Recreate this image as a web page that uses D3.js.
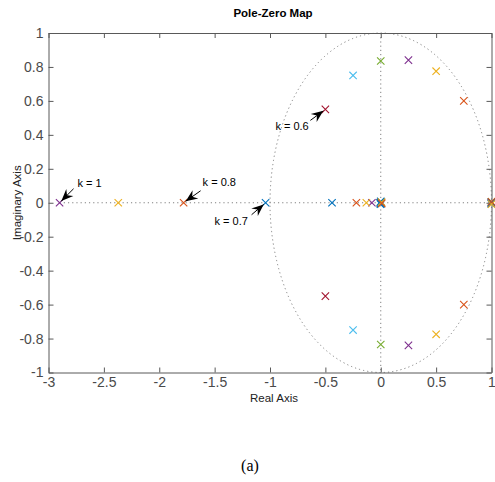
<!DOCTYPE html>
<html>
<head>
<meta charset="utf-8">
<script src="https://cdn.jsdelivr.net/npm/d3@7"></script>
<style>
  body { margin: 0; background: #fff; }
  svg { display: block; font-family: "Liberation Sans", Arial, sans-serif; }
</style>
</head>
<body>
<div id="chart"></div>
<script>
// Pole locations per series (real, imag)
const seriesColors = ["#7E2F8E", "#4DBEEE", "#A2142F", "#77AC30", "#0072BD", "#EDB120", "#D95319"];
const poleRe = [
  [0.25, 0.25, -2.9, -0.08, 0.004, 1.0],
  [-0.25, -0.25, -0.002, 1.0],
  [-0.5, -0.5, 0.0, 1.0],
  [0.0, 0.0, 0.002, 1.0],
  [-1.04, -0.44, -0.006, 0.0, 0.004, -0.003, 0.002, 1.0, 0.997],
  [0.5, 0.5, -2.37, -0.13, 0.007, 1.0],
  [0.75, 0.75, -1.78, -0.22, 0.009, 1.0]
];
const poleIm = [
  [0.84, -0.84, 0, 0, 0, 0],
  [0.75, -0.75, 0, 0],
  [0.55, -0.55, 0, 0],
  [0.835, -0.835, 0, 0.006],
  [0, 0, 0, 0.008, -0.006, -0.008, 0.004, 0.004, -0.006],
  [0.775, -0.775, 0, 0, 0.004, -0.008],
  [0.6, -0.6, 0, 0, -0.004, 0.006]
];

const xTicks = [-3, -2.5, -2, -1.5, -1, -0.5, 0, 0.5, 1];
const yTicks = [-1, -0.8, -0.6, -0.4, -0.2, 0, 0.2, 0.4, 0.6, 0.8, 1];

// annotations: label and the pole each arrow points at
const annLabels = ["k = 1", "k = 0.8", "k = 0.7", "k = 0.6"];
const annTip = [[-2.9, 0], [-1.78, 0], [-1.04, 0], [-0.5, 0.55]];

const width = 495, height = 482;
const margin = { top: 33, right: 3, bottom: 110, left: 48.5 };

const svg = d3.select("#chart").append("svg")
  .attr("width", width)
  .attr("height", height);

svg.append("rect").attr("width", width).attr("height", height).attr("fill", "#fff");

const x = d3.scaleLinear().domain([-3, 1]).range([margin.left, width - margin.right - 0.5]);
const y = d3.scaleLinear().domain([-1, 1]).range([372.5, margin.top]);

const axisColor = "#595959";

// dotted guide lines
const dotStyle = g => g.attr("fill", "none").attr("stroke", "#808080")
  .attr("stroke-width", 1).attr("stroke-dasharray", "1.2,3");

svg.append("line")
  .attr("x1", x(0)).attr("x2", x(0))
  .attr("y1", y(1)).attr("y2", y(-1))
  .call(dotStyle);

svg.append("line")
  .attr("x1", x(-2.9)).attr("x2", x(1))
  .attr("y1", y(0)).attr("y2", y(0))
  .call(dotStyle);

svg.append("ellipse")
  .attr("cx", x(0)).attr("cy", y(0))
  .attr("rx", x(1) - x(0)).attr("ry", y(0) - y(1))
  .call(dotStyle);

// axes box with inward ticks on all sides
const tickLen = 5;
function styleAxis(g) {
  g.select(".domain").attr("stroke", axisColor);
  g.selectAll(".tick line").attr("stroke", axisColor);
  g.selectAll(".tick text").attr("fill", "#4a4a4a").attr("font-size", "14px")
    .attr("font-family", "Liberation Sans, Arial, sans-serif");
}

svg.append("g")
  .attr("transform", `translate(0,${y(-1)})`)
  .call(d3.axisBottom(x).tickValues(xTicks).tickFormat(d => d).tickSize(-tickLen).tickPadding(4).tickSizeOuter(0))
  .call(styleAxis)
  .call(g => g.selectAll(".tick text").attr("dy", "0.75em"));

svg.append("g")
  .attr("transform", `translate(0,${y(1)})`)
  .call(d3.axisTop(x).tickValues(xTicks).tickFormat("").tickSize(-tickLen).tickSizeOuter(0))
  .call(styleAxis);

svg.append("g")
  .attr("transform", `translate(${x(-3)},0)`)
  .call(d3.axisLeft(y).tickValues(yTicks).tickFormat(d => d).tickSize(-tickLen).tickPadding(5).tickSizeOuter(0))
  .call(styleAxis);

svg.append("g")
  .attr("transform", `translate(${x(1)},0)`)
  .call(d3.axisRight(y).tickValues(yTicks).tickFormat("").tickSize(-tickLen).tickSizeOuter(0))
  .call(styleAxis);

// pole markers
const ms = 3.7;
seriesColors.forEach((c, i) => {
  const pts = poleRe[i].map((re, j) => [re, poleIm[i][j]]);
  const g = svg.append("g");
  pts.forEach(p => {
    const cx = x(p[0]), cy = y(p[1]);
    g.append("path")
      .attr("d", `M${cx - ms},${cy - ms}L${cx + ms},${cy + ms}M${cx - ms},${cy + ms}L${cx + ms},${cy - ms}`)
      .attr("stroke", c)
      .attr("stroke-width", 1.1)
      .attr("fill", "none");
  });
});

// annotations
const tailOff = [[14, -14], [17, -12], [-14, 12], [-15, 11]];
const textPos = [[18, -16], [19, -17], [-51, 22], [-50, 21]];
function arrowHead(x0, y0, x1, y1) {
  const ang = Math.atan2(y1 - y0, x1 - x0);
  const L = 12, W = 5, back = 8;
  const ux = Math.cos(ang), uy = Math.sin(ang);
  const px = -uy, py = ux;
  const bx = x1 - ux * L, by = y1 - uy * L;
  const mx = x1 - ux * back, my = y1 - uy * back;
  return `M${x1},${y1}L${bx + px * W},${by + py * W}L${mx},${my}L${bx - px * W},${by - py * W}Z`;
}
annLabels.forEach((lab, i) => {
  const tx = x(annTip[i][0]), ty = y(annTip[i][1]);
  const dir = tailOff[i];
  const len = Math.hypot(dir[0], dir[1]);
  const tipX = tx + dir[0] / len * 2.5, tipY = ty + dir[1] / len * 2.5;
  const x0 = tx + dir[0], y0 = ty + dir[1];
  svg.append("line")
    .attr("x1", x0).attr("y1", y0).attr("x2", tipX).attr("y2", tipY)
    .attr("stroke", "#000").attr("stroke-width", 1);
  svg.append("path").attr("d", arrowHead(x0, y0, tipX, tipY)).attr("fill", "#000");
  svg.append("text")
    .attr("x", tx + textPos[i][0]).attr("y", ty + textPos[i][1])
    .attr("font-size", "11px").attr("fill", "#000")
    .text(lab);
});

// titles
svg.append("text")
  .attr("x", 273).attr("y", 17)
  .attr("text-anchor", "middle")
  .attr("font-size", "11.5px").attr("font-weight", "bold")
  .text("Pole-Zero Map");

svg.append("text")
  .attr("x", 250).attr("y", 402)
  .attr("font-size", "11.5px").attr("fill", "#222")
  .text("Real Axis");

svg.append("text")
  .attr("transform", `translate(21,${y(0)}) rotate(-90)`)
  .attr("text-anchor", "middle")
  .attr("font-size", "11.5px").attr("fill", "#222")
  .text("Imaginary Axis");

svg.append("text")
  .attr("x", 250).attr("y", 471)
  .attr("text-anchor", "middle")
  .attr("font-family", "Liberation Serif, Times New Roman, serif")
  .attr("font-size", "16px")
  .text("(a)");
</script>
</body>
</html>
